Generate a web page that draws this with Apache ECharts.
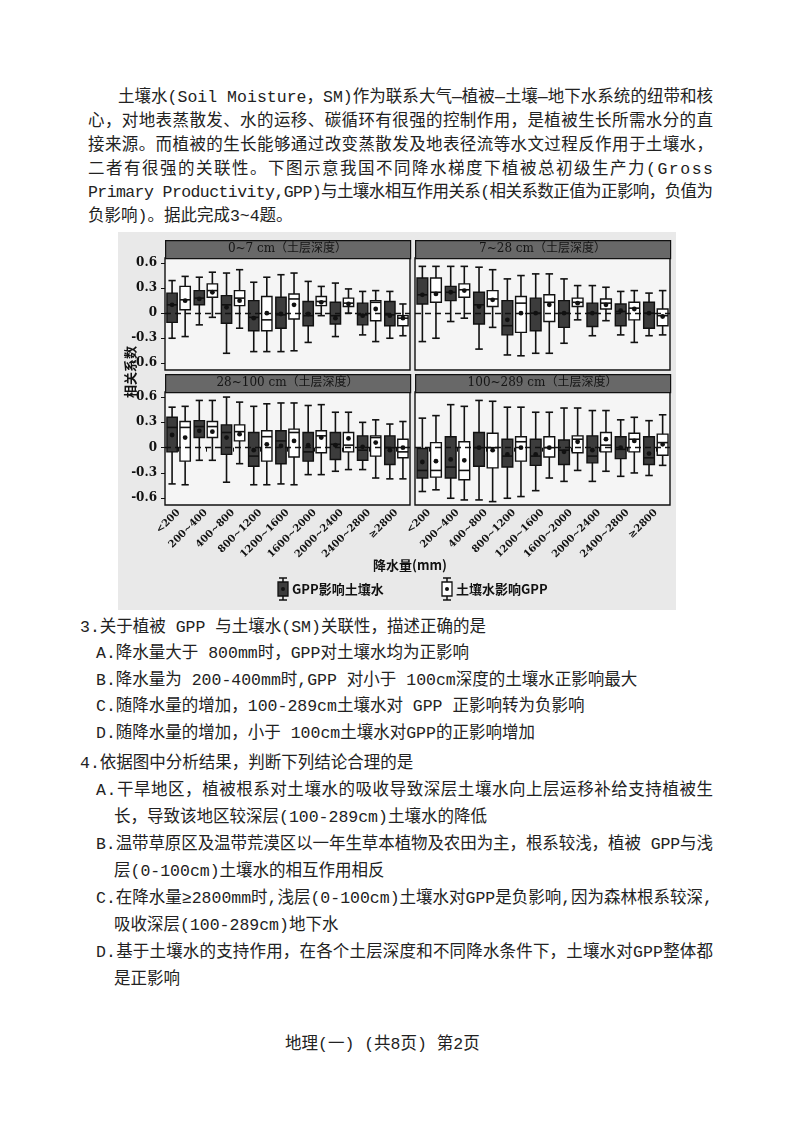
<!DOCTYPE html>
<html>
<head>
<meta charset="utf-8">
<script src="https://cdn.jsdelivr.net/npm/echarts@6/dist/echarts.min.js"></script>
<style>
  body { margin: 0; background: #fff; width: 800px; height: 1132px; position: relative; overflow: hidden; }
  .t { position: absolute; font-family: "Liberation Mono", "Noto Sans CJK SC", monospace; font-size: 16.5px; line-height: 24px; height: 24px; color: #222; white-space: nowrap; }
  #chart { position: absolute; left: 118px; top: 232px; width: 558px; height: 378px; background: #e9e9e9; }
</style>
</head>
<body>
<div class="t j" data-w="595" style="left:118px;top:86px">土壤水(Soil Moisture，SM)作为联系大气—植被—土壤—地下水系统的纽带和核</div>
<div class="t j" data-w="625" style="left:88px;top:110px">心，对地表蒸散发、水的运移、碳循环有很强的控制作用，是植被生长所需水分的直</div>
<div class="t j" data-w="625" style="left:88px;top:134px">接来源。而植被的生长能够通过改变蒸散发及地表径流等水文过程反作用于土壤水，</div>
<div class="t j" data-w="625" style="left:88px;top:158px">二者有很强的关联性。下图示意我国不同降水梯度下植被总初级生产力(Gross</div>
<div class="t j" data-w="625" style="left:88px;top:181px">Primary Productivity,GPP)与土壤水相互作用关系(相关系数正值为正影响，负值为</div>
<div class="t" style="left:88px;top:205px">负影响)。据此完成3~4题。</div>

<div id="chart"></div>

<div class="t" style="left:80px;top:616px">3.关于植被 GPP 与土壤水(SM)关联性，描述正确的是</div>
<div class="t" style="left:96px;top:642px">A.降水量大于 800mm时，GPP对土壤水均为正影响</div>
<div class="t" style="left:96px;top:669px">B.降水量为 200-400mm时,GPP 对小于 100cm深度的土壤水正影响最大</div>
<div class="t" style="left:96px;top:695px">C.随降水量的增加，100-289cm土壤水对 GPP 正影响转为负影响</div>
<div class="t" style="left:96px;top:722px">D.随降水量的增加，小于 100cm土壤水对GPP的正影响增加</div>
<div class="t" style="left:80px;top:752px">4.依据图中分析结果，判断下列结论合理的是</div>
<div class="t j" data-w="617" style="left:96px;top:779px">A.干旱地区，植被根系对土壤水的吸收导致深层土壤水向上层运移补给支持植被生</div>
<div class="t" style="left:114px;top:806px">长，导致该地区较深层(100-289cm)土壤水的降低</div>
<div class="t j" data-w="617" style="left:96px;top:833px">B.温带草原区及温带荒漠区以一年生草本植物及农田为主，根系较浅，植被 GPP与浅</div>
<div class="t" style="left:114px;top:860px">层(0-100cm)土壤水的相互作用相反</div>
<div class="t j" data-w="617" style="left:96px;top:887px">C.在降水量≥2800mm时,浅层(0-100cm)土壤水对GPP是负影响,因为森林根系较深,</div>
<div class="t" style="left:114px;top:914px">吸收深层(100-289cm)地下水</div>
<div class="t j" data-w="617" style="left:96px;top:941px">D.基于土壤水的支持作用，在各个土层深度和不同降水条件下，土壤水对GPP整体都</div>
<div class="t" style="left:114px;top:968px">是正影响</div>
<div class="t" style="left:285px;top:1033px">地理(一) (共8页) 第2页</div>

<script>
// 两端对齐：按行宽调整字距
document.querySelectorAll('.j').forEach(el => {
  const target = +el.dataset.w;
  const n = [...el.textContent].length;
  const w = el.getBoundingClientRect().width;
  el.style.letterSpacing = ((target - w) / (n - 1)) + 'px';
});

// 降水量分组
const categories = ['<200', '200~400', '400~800', '800~1200', '1200~1600', '1600~2000', '2000~2400', '2400~2800', '≥2800'];
const depths = ['0~7 cm（土层深度）', '7~28 cm（土层深度）', '28~100 cm（土层深度）', '100~289 cm（土层深度）'];
const yTicks = [-0.6, -0.3, 0, 0.3, 0.6];

// 每项: [min, Q1, median, Q3, max, mean]
const gppSm_0_7 = [
  [-0.30, -0.11, 0.10, 0.24, 0.39, 0.10], [-0.14, 0.10, 0.18, 0.27, 0.43, 0.17], [-0.48, -0.12, 0.10, 0.21, 0.48, 0.07],
  [-0.46, -0.21, -0.05, 0.15, 0.37, -0.06], [-0.46, -0.18, -0.02, 0.19, 0.46, -0.01], [-0.35, -0.15, -0.03, 0.14, 0.38, -0.01],
  [-0.28, -0.13, -0.03, 0.13, 0.36, -0.06], [-0.26, -0.14, -0.02, 0.12, 0.26, -0.03], [-0.30, -0.15, -0.02, 0.14, 0.26, -0.03]
];
const smGpp_0_7 = [
  [-0.28, 0.04, 0.16, 0.32, 0.44, 0.15], [-0.05, 0.19, 0.27, 0.35, 0.49, 0.25], [-0.18, 0.09, 0.18, 0.27, 0.52, 0.15],
  [-0.46, -0.21, -0.08, 0.20, 0.43, 0.00], [-0.45, -0.07, 0.17, 0.23, 0.48, 0.10], [-0.03, 0.09, 0.14, 0.20, 0.32, 0.13],
  [0.00, 0.08, 0.12, 0.18, 0.29, 0.11], [-0.34, -0.09, 0.13, 0.15, 0.27, 0.05], [-0.27, -0.15, -0.06, -0.03, 0.11, -0.06]
];
const gppSm_7_28 = [
  [-0.34, 0.11, 0.22, 0.42, 0.56, 0.22], [-0.10, 0.15, 0.25, 0.32, 0.56, 0.25], [-0.43, -0.13, 0.10, 0.25, 0.55, 0.08],
  [-0.50, -0.26, -0.15, 0.15, 0.41, -0.08], [-0.48, -0.21, 0.00, 0.18, 0.47, 0.00], [-0.36, -0.17, 0.00, 0.15, 0.41, 0.00],
  [-0.27, -0.16, 0.00, 0.12, 0.33, 0.00], [-0.26, -0.15, 0.02, 0.11, 0.26, 0.03], [-0.27, -0.18, 0.00, 0.13, 0.24, 0.00]
];
const smGpp_7_28 = [
  [-0.30, 0.13, 0.25, 0.42, 0.56, 0.23], [-0.06, 0.19, 0.28, 0.35, 0.56, 0.27], [-0.17, 0.08, 0.17, 0.27, 0.52, 0.16],
  [-0.51, -0.23, 0.12, 0.20, 0.45, 0.00], [-0.48, -0.10, 0.13, 0.22, 0.47, 0.10], [-0.08, 0.08, 0.13, 0.18, 0.33, 0.12],
  [-0.09, 0.05, 0.12, 0.17, 0.31, 0.10], [-0.35, -0.08, 0.06, 0.13, 0.27, 0.05], [-0.26, -0.15, -0.03, 0.05, 0.27, -0.04]
];
const gppSm_28_100 = [
  [-0.43, -0.05, 0.24, 0.36, 0.48, 0.15], [-0.15, 0.12, 0.25, 0.32, 0.56, 0.20], [-0.41, -0.08, 0.18, 0.27, 0.60, 0.12],
  [-0.44, -0.22, -0.10, 0.18, 0.49, -0.03], [-0.43, -0.19, 0.08, 0.20, 0.53, 0.02], [-0.32, -0.16, -0.05, 0.18, 0.50, 0.03],
  [-0.28, -0.14, 0.04, 0.18, 0.42, 0.03], [-0.26, -0.15, -0.03, 0.14, 0.30, 0.01], [-0.37, -0.20, 0.00, 0.14, 0.28, -0.03]
];
const smGpp_28_100 = [
  [-0.44, -0.16, 0.24, 0.31, 0.49, 0.12], [-0.15, 0.12, 0.25, 0.31, 0.56, 0.19], [-0.19, 0.08, 0.19, 0.27, 0.54, 0.16],
  [-0.44, -0.16, 0.13, 0.20, 0.52, 0.04], [-0.44, -0.11, 0.18, 0.22, 0.53, 0.08], [-0.32, -0.06, 0.14, 0.20, 0.51, 0.12],
  [-0.26, -0.05, 0.03, 0.18, 0.42, 0.11], [-0.36, -0.10, 0.12, 0.14, 0.33, 0.06], [-0.37, -0.12, -0.05, 0.10, 0.31, 0.00]
];
const gppSm_100_289 = [
  [-0.52, -0.36, -0.27, -0.01, 0.35, -0.17], [-0.60, -0.36, -0.23, 0.13, 0.51, -0.14], [-0.62, -0.22, 0.00, 0.18, 0.56, 0.00],
  [-0.60, -0.23, -0.10, 0.10, 0.48, -0.08], [-0.51, -0.21, -0.10, 0.10, 0.42, -0.08], [-0.40, -0.20, -0.03, 0.09, 0.47, -0.05],
  [-0.40, -0.18, -0.10, 0.14, 0.44, -0.03], [-0.34, -0.13, -0.02, 0.13, 0.33, 0.00], [-0.33, -0.20, -0.12, 0.13, 0.32, -0.07]
];
const smGpp_100_289 = [
  [-0.50, -0.35, -0.27, 0.06, 0.38, -0.16], [-0.62, -0.38, -0.27, 0.07, 0.49, -0.15], [-0.64, -0.24, 0.00, 0.17, 0.55, -0.03],
  [-0.58, -0.16, 0.07, 0.13, 0.48, 0.00], [-0.36, -0.11, 0.00, 0.13, 0.42, 0.00], [-0.27, -0.06, 0.10, 0.14, 0.47, 0.07],
  [-0.28, -0.05, 0.03, 0.18, 0.44, 0.10], [-0.30, -0.05, 0.10, 0.17, 0.36, 0.08], [-0.21, -0.09, 0.06, 0.16, 0.39, 0.04]
];

const panels = [
  [gppSm_0_7, smGpp_0_7], [gppSm_7_28, smGpp_7_28],
  [gppSm_28_100, smGpp_28_100], [gppSm_100_289, smGpp_100_289]
];

const font = '"DejaVu Serif", "Noto Sans CJK SC", serif';
const grids = [
  { left: 47, top: 26, width: 245, height: 112 },
  { left: 297, top: 26, width: 255, height: 112 },
  { left: 47, top: 160, width: 245, height: 113 },
  { left: 297, top: 160, width: 255, height: 113 }
];

function boxRender(fill, side) {
  return function (params, api) {
    const cat = api.value(0);
    const bw = api.size([1, 0])[0];
    const x = api.coord([cat, 0])[0] + side * bw * 0.24;
    const w = bw * 0.38;
    const y = i => api.coord([cat, api.value(i)])[1];
    const ln = (x1, y1, x2, y2) => ({ type: 'line', shape: { x1, y1, x2, y2 }, style: { stroke: '#111', lineWidth: 1.6 } });
    return {
      type: 'group',
      children: [
        ln(x, y(1), x, y(5)),
        ln(x - w * 0.35, y(1), x + w * 0.35, y(1)),
        ln(x - w * 0.35, y(5), x + w * 0.35, y(5)),
        { type: 'rect', shape: { x: x - w / 2, y: y(4), width: w, height: y(2) - y(4) },
          style: { fill: fill, stroke: '#111', lineWidth: 1.4 } },
        ln(x - w / 2, y(3), x + w / 2, y(3)),
        { type: 'circle', shape: { cx: x, cy: y(6), r: 2.4 }, style: { fill: '#111' } }
      ]
    };
  };
}

const series = [];
const graphic = [];
panels.forEach((pair, k) => {
  pair.forEach((rows, s) => {
    series.push({
      type: 'custom', xAxisIndex: k, yAxisIndex: k,
      renderItem: boxRender(s === 0 ? '#3c3c3c' : '#ffffff', s === 0 ? -1 : 1),
      encode: { x: 0, y: [1, 2, 3, 4, 5] },
      data: rows.map((r, i) => [i].concat(r)),
      markLine: s === 0 ? { silent: true, symbol: 'none', label: { show: false },
        lineStyle: { color: '#111', type: [6, 4], width: 1.4 }, data: [{ yAxis: 0 }] } : undefined,
      z: 3 + s
    });
  });
  const g = grids[k];
  graphic.push({ type: 'rect', left: g.left, top: g.top - 18, z: 10,
    shape: { width: g.width, height: 18 }, style: { fill: '#686868', stroke: '#111', lineWidth: 1.2 } });
  graphic.push({ type: 'text', x: g.left + g.width / 2, y: g.top - 9, z: 11,
    style: { text: depths[k], fill: '#151515', font: '12px ' + font, align: 'center', verticalAlign: 'middle' } });
});

graphic.push({ type: 'text', x: 12, y: 140, rotation: Math.PI / 2,
  style: { text: '相关系数', fill: '#111', font: 'bold 13px "Noto Sans CJK SC"', align: 'center', verticalAlign: 'middle' } });
graphic.push({ type: 'text', x: 292, y: 333,
  style: { text: '降水量(mm)', fill: '#111', font: 'bold 13px "Noto Sans CJK SC"', align: 'center', verticalAlign: 'middle' } });

function legendIcon(x, fill) {
  return { type: 'group', x: x, y: 346, children: [
    { type: 'line', shape: { x1: 5, y1: 0, x2: 5, y2: 22 }, style: { stroke: '#111', lineWidth: 1.5 } },
    { type: 'line', shape: { x1: 1, y1: 0, x2: 9, y2: 0 }, style: { stroke: '#111', lineWidth: 1.5 } },
    { type: 'line', shape: { x1: 1, y1: 22, x2: 9, y2: 22 }, style: { stroke: '#111', lineWidth: 1.5 } },
    { type: 'rect', shape: { x: 0, y: 4, width: 10, height: 14 }, style: { fill: fill, stroke: '#111', lineWidth: 1.3 } },
    { type: 'circle', shape: { cx: 5, cy: 11, r: 2 }, style: { fill: '#111' } }
  ] };
}
graphic.push(legendIcon(160, '#3c3c3c'));
graphic.push({ type: 'text', x: 174, y: 357,
  style: { text: 'GPP影响土壤水', fill: '#111', font: 'bold 13px "Noto Sans CJK SC"', verticalAlign: 'middle' } });
graphic.push(legendIcon(324, '#ffffff'));
graphic.push({ type: 'text', x: 338, y: 357,
  style: { text: '土壤水影响GPP', fill: '#111', font: 'bold 13px "Noto Sans CJK SC"', verticalAlign: 'middle' } });

const chart = echarts.init(document.getElementById('chart'));
chart.setOption({
  animation: false,
  grid: grids.map(g => Object.assign({ show: true, borderColor: '#111', borderWidth: 1.4, backgroundColor: '#f5f5f5' }, g)),
  xAxis: grids.map((g, k) => ({
    type: 'category', gridIndex: k, data: categories,
    axisLine: { show: false },
    axisTick: { show: k >= 2, alignWithLabel: true, length: 4, lineStyle: { color: '#111' } },
    axisLabel: { show: k >= 2, rotate: 45, interval: 0, fontSize: 10, fontWeight: 'bold', color: '#111', fontFamily: font, margin: 6 }
  })),
  yAxis: grids.map((g, k) => ({
    type: 'value', gridIndex: k, min: -0.68, max: 0.66,
    splitLine: { show: false }, axisLine: { show: false },
    axisTick: { show: k % 2 === 0, customValues: yTicks, length: 4, lineStyle: { color: '#111' } },
    axisLabel: { show: k % 2 === 0, customValues: yTicks, fontSize: 12, fontWeight: 'bold', color: '#111', fontFamily: font,
      formatter: v => (v === 0 ? '0' : v.toFixed(1)) }
  })),
  series: series,
  graphic: graphic
});
</script>
</body>
</html>
